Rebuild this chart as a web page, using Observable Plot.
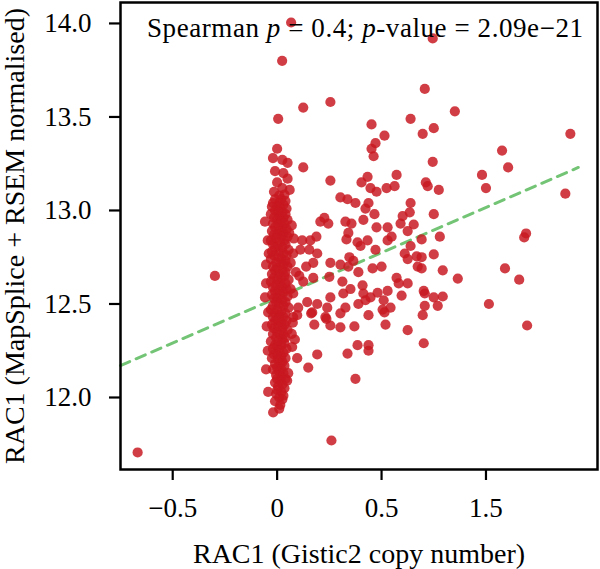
<!DOCTYPE html>
<html>
<head>
<meta charset="utf-8">
<script src="https://cdn.jsdelivr.net/npm/d3@7"></script>
<script src="https://cdn.jsdelivr.net/npm/@observablehq/plot@0.6"></script>
<style>
  html, body { margin: 0; padding: 0; background: #ffffff; }
  #chart svg { display: block; }
</style>
</head>
<body>
<div id="chart"></div>
<script>
// ---- Tick values and labels ----
const xTickValues = [-0.5, 0, 0.5, 1];
const xTickLabels = ["\u22120.5", "0", "0.5", "1.5"];
const yTickValues = [12, 12.5, 13, 13.5, 14];
const yTickLabels = ["12.0", "12.5", "13.0", "13.5", "14.0"];

const xTitle = "RAC1 (Gistic2 copy number)";
const yTitle = "RAC1 (MapSplice + RSEM normalised)";
const statRho = "0.4";
const statP = "2.09e\u221221";

// ---- Regression (trend) line endpoints [copy number, expression] ----
const trendX = [-0.75, 1.442];
const trendY = [12.171, 13.230];

// ---- Samples near copy number 0 (dense column) [copy number, expression] ----
const neutralSamples = [
  [0.0,13.33],[-0.02,13.28],[0.025,13.27],[0.05,13.255],[-0.01,13.21],[0.03,13.20],[0.0,13.15],
  [0.05,13.17],[0.025,13.12],[-0.015,13.10],[0.06,13.11],[0.01,13.08],[0.035,13.085],
  [-0.01,13.06],[0.02,13.06],[0.04,13.05],[-0.02,13.04],[0.01,13.04],[0.03,13.03],[0.0,13.02],
  [-0.025,13.02],[0.045,13.01],[0.015,13.01],[-0.01,13.00],[0.025,12.99],[0.005,12.99],
  [-0.03,12.98],[0.04,12.98],[0.01,12.97],[-0.015,12.96],[0.03,12.96],[0.0,12.95],[0.05,12.95],
  [0.02,12.94],[-0.02,12.93],[0.035,12.93],[0.005,12.92],[0.025,12.91],[-0.01,12.91],[0.045,12.90],
  [-0.025,12.89],[0.01,12.89],[0.03,12.88],[0.0,12.87],[-0.015,12.87],[0.02,12.86],[0.05,12.86],
  [-0.005,12.85],[0.035,12.84],[-0.03,12.84],[0.015,12.83],[-0.02,12.82],[0.04,12.82],[0.0,12.81],
  [0.025,12.80],[-0.01,12.80],[0.055,12.79],[0.01,12.78],[-0.025,12.78],[0.03,12.77],[-0.015,12.76],
  [0.045,12.76],[0.005,12.75],[0.02,12.74],[-0.03,12.74],[0.04,12.73],[-0.005,12.72],[0.015,12.72],
  [0.03,12.71],[-0.02,12.70],[0.05,12.70],[0.0,12.69],[0.025,12.68],[-0.01,12.68],[0.04,12.67],
  [-0.025,12.66],[0.01,12.66],[0.035,12.65],[-0.015,12.64],[0.02,12.64],[0.0,12.63],[0.055,12.63],
  [-0.03,12.62],[0.015,12.61],[0.04,12.61],[-0.005,12.60],[0.025,12.59],[-0.02,12.59],[0.045,12.58],
  [0.005,12.57],[-0.01,12.57],[0.03,12.56],[-0.025,12.55],[0.015,12.55],[0.05,12.54],[0.0,12.53],
  [-0.015,12.53],[0.025,12.52],[-0.005,12.51],[0.04,12.51],[0.01,12.50],[-0.02,12.49],[0.03,12.49],
  [0.055,12.48],[0.0,12.47],[-0.03,12.47],[0.02,12.46],[-0.01,12.45],[0.04,12.45],[0.01,12.44],
  [0.03,12.43],[-0.02,12.43],[0.0,12.42],[0.045,12.41],[-0.01,12.41],[0.02,12.40],[-0.025,12.39],
  [0.035,12.39],[0.005,12.38],[0.025,12.37],[-0.015,12.37],[0.05,12.36],[0.0,12.35],[-0.02,12.34],
  [0.03,12.34],[0.015,12.33],[-0.005,12.32],[0.04,12.32],[0.025,12.31],[-0.03,12.30],[0.005,12.30],
  [0.035,12.29],[-0.01,12.28],[0.02,12.28],[0.0,12.27],[0.045,12.26],[-0.02,12.26],[0.01,12.25],
  [0.03,12.24],[-0.015,12.23],[0.0,12.23],[0.02,12.22],[-0.025,12.21],[0.04,12.21],[0.005,12.20],
  [0.025,12.19],[-0.01,12.18],[0.015,12.18],[0.035,12.17],[0.0,12.16],[0.02,12.15],[-0.02,12.15],
  [0.01,12.14],[0.03,12.13],[-0.005,12.12],[0.02,12.11],[0.0,12.10],[0.04,12.10],[0.015,12.09],
  [-0.01,12.08],[0.025,12.07],[0.005,12.06],[0.035,12.05],[0.0,12.04],[0.02,12.03],[-0.005,12.02],
  [0.03,12.01],[0.01,12.00],[0.025,11.99],[-0.01,11.98],[0.015,11.96],
  [0.07,12.92],[0.08,12.85],[0.065,12.58],[0.075,12.40],[0.07,12.34],[0.085,12.31],[0.065,12.72],
  [0.09,12.67],[-0.045,12.84],[-0.05,12.38],[-0.045,12.25],[-0.04,12.77],
  [-0.058,12.94],[-0.053,12.71],[-0.053,12.61],[-0.058,12.535],[-0.043,12.455],[-0.053,12.15],
  [-0.043,12.03],[-0.019,11.92],[0.01,11.94],[0.058,12.88],[0.077,12.77],[0.077,12.556],
  [0.077,12.43],[0.072,12.27],[0.096,12.21],[0.053,12.13],[0.048,12.09],
  [0.067,14.005],[0.024,13.80],[0.005,13.49]
];

// ---- Samples with copy-number change [copy number, expression] ----
const changedSamples = [
  [-0.668,11.706],[-0.298,12.65],
  [0.125,13.55],[0.255,13.58],[0.452,13.46],[0.514,13.40],[0.471,13.36],[0.452,13.33],[0.462,13.29],
  [0.639,13.49],[0.707,13.65],[0.745,13.92],[0.851,13.53],[0.75,13.44],[0.697,13.41],[1.404,13.41],
  [1.077,13.32],[0.745,13.26],[0.125,13.23],[0.255,13.16],[0.433,13.18],[0.572,13.19],[0.404,13.15],
  [0.447,13.12],[0.476,13.10],[0.524,13.12],[0.5625,13.13],[0.712,13.15],[0.721,13.13],[0.774,13.11],
  [0.981,13.19],[1.0,13.12],[1.106,13.23],[1.38,13.09],[0.303,13.07],[0.337,13.06],[0.375,13.04],
  [0.4375,13.04],[0.466,12.98],[0.423,13.01],[0.639,13.04],[0.635,12.99],[0.601,12.97],[0.591,12.93],
  [0.654,12.925],[0.625,12.89],[0.207,12.94],[0.226,12.96],[0.245,12.93],[0.327,12.94],[0.356,12.93],
  [0.341,12.88],[0.413,12.95],[0.476,12.91],[0.529,12.91],[0.529,12.84],[0.548,12.86],[0.332,12.845],
  [0.385,12.83],[0.433,12.84],[0.399,12.81],[0.471,12.79],[0.346,12.75],[0.365,12.73],[0.341,12.70],
  [0.389,12.67],[0.457,12.69],[0.5,12.70],[0.255,12.72],[0.303,12.71],[0.12,12.84],[0.159,12.84],
  [0.188,12.86],[0.111,12.79],[0.154,12.79],[0.192,12.77],[0.139,12.70],[0.173,12.72],[0.106,12.65],
  [0.173,12.64],[0.125,12.62],[0.25,12.645],[0.3125,12.62],[0.255,12.535],[0.317,12.556],[0.351,12.58],
  [0.409,12.60],[0.413,12.556],[0.423,12.52],[0.481,12.56],[0.529,12.57],[0.572,12.64],[0.582,12.61],
  [0.625,12.61],[0.611,12.77],[0.625,12.74],[0.668,12.755],[0.673,12.70],[0.639,12.81],[0.596,12.545],
  [0.51,12.52],[0.543,12.48],[0.505,12.47],[0.389,12.50],[0.4375,12.44],[0.327,12.48],[0.303,12.45],
  [0.24,12.48],[0.231,12.43],[0.168,12.455],[0.192,12.50],[0.144,12.51],[0.101,12.48],[0.096,12.44],
  [0.75,12.98],[0.779,12.86],[0.692,12.845],[1.192,12.877],[1.183,12.856],[0.75,12.765],[0.692,12.75],
  [0.793,12.68],[0.692,12.69],[0.865,12.636],[1.091,12.69],[1.159,12.63],[0.707,12.556],[0.75,12.535],
  [0.793,12.54],[0.769,12.49],[0.707,12.49],[0.697,12.44],[1.014,12.50],[1.197,12.385],[0.625,12.36],
  [0.702,12.29],[0.337,12.235],[0.385,12.28],[0.4375,12.25],[0.4375,12.28],[0.192,12.23],[0.149,12.16],
  [0.375,12.10],[0.519,12.39],[0.37,12.38],[0.303,12.375],[0.255,12.385],[0.178,12.39],[0.236,12.42],
  [0.26,11.77],[0.163,12.45],[0.514,12.455],[0.702,12.57],[0.447,12.535]
];

const samples = neutralSamples.concat(changedSamples).map(([cn, expr]) => ({cn, expr}));
const trend = trendX.map((x, i) => ({cn: x, expr: trendY[i]}));

const chart = Plot.plot({
  width: 600,
  height: 569,
  marginLeft: 120,
  marginRight: 3,
  marginTop: 2,
  marginBottom: 100,
  style: {fontFamily: "'Liberation Serif', serif", fontSize: "27px", color: "#000", background: "#fff"},
  x: {domain: [-0.75, 1.534]},
  y: {domain: [11.615, 14.112]},
  marks: [
    Plot.line(trend, {x: "cn", y: "expr", stroke: "#74c476", strokeWidth: 3, strokeDasharray: "10,7"}),
    Plot.dot(samples, {x: "cn", y: "expr", r: 5.1, fill: "#c81820", fillOpacity: 0.84, stroke: "none"}),
    Plot.frame({stroke: "#000", strokeWidth: 2.5}),
    Plot.axisX({ticks: xTickValues, tickFormat: (d) => xTickLabels[xTickValues.indexOf(d)], tickSize: 11, tickPadding: 17, strokeWidth: 2.2, fontSize: 27, label: null}),
    Plot.axisY({ticks: yTickValues, tickFormat: (d) => yTickLabels[yTickValues.indexOf(d)], tickSize: 11, tickPadding: 18, strokeWidth: 2.2, fontSize: 27, label: null}),
    Plot.text([xTitle], {text: d => d, frameAnchor: "bottom", dy: 93, lineAnchor: "bottom", textAnchor: "middle", fontSize: 28}),
    Plot.text([yTitle], {text: d => d, frameAnchor: "left", dx: -97, rotate: -90, lineAnchor: "bottom", textAnchor: "middle", fontSize: 28})
  ]
});

// Annotation with italic p
const svg = d3.select(chart);
const ann = svg.append("text")
  .attr("x", 147).attr("y", 37)
  .attr("text-anchor", "start")
  .attr("font-family", "'Liberation Serif', serif")
  .attr("font-size", 27)
  .attr("textLength", 436)
  .attr("lengthAdjust", "spacing")
  .attr("fill", "#000");
ann.append("tspan").text("Spearman ");
ann.append("tspan").attr("font-style", "italic").text("p");
ann.append("tspan").text(" = " + statRho + "; ");
ann.append("tspan").attr("font-style", "italic").text("p");
ann.append("tspan").text("-value = " + statP);

document.getElementById("chart").appendChild(chart);
</script>
</body>
</html>
